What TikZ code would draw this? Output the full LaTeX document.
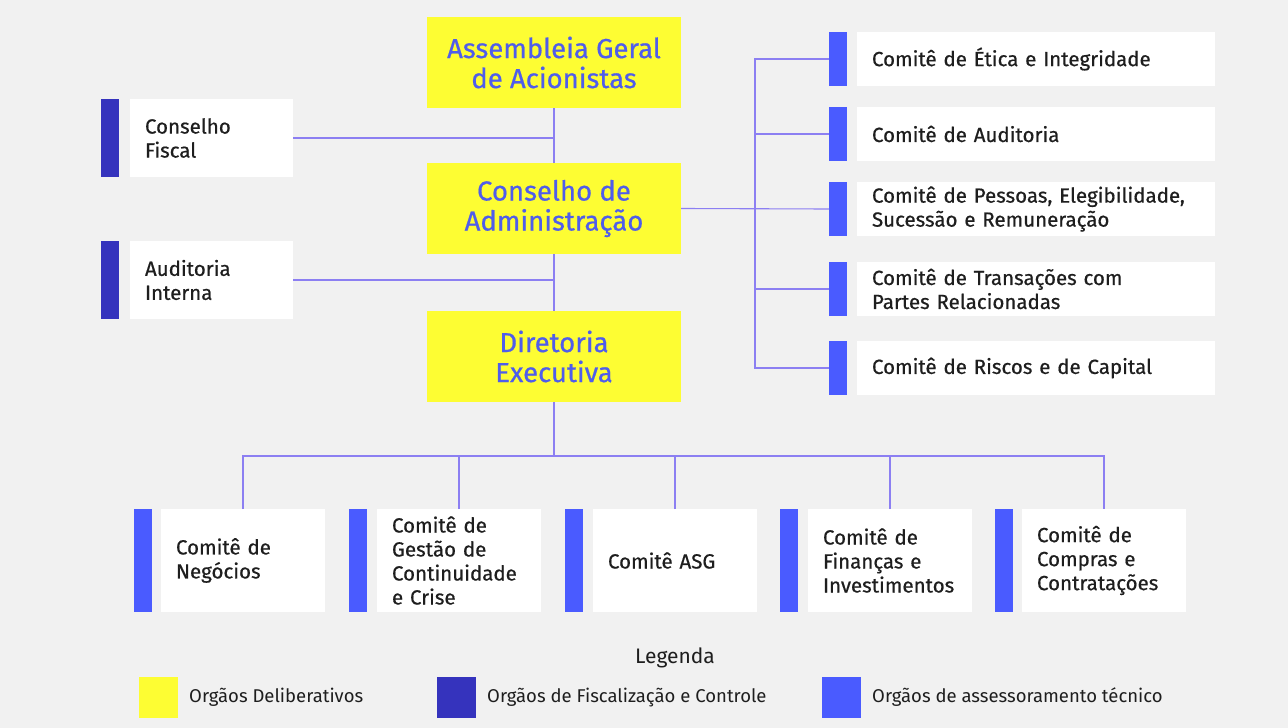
\documentclass[tikz,border=0pt]{standalone}
\usepackage{fontspec}
\setmainfont{Fira Sans}
\newfontfamily\boxfont{Fira Sans}[FakeBold=0.6]
\usetikzlibrary{positioning}

\definecolor{pagegray}{HTML}{F1F1F1}
\definecolor{delibyellow}{HTML}{FDFD33}
\definecolor{titleblue}{HTML}{4F5DEB}
\definecolor{fiscblue}{HTML}{3533BD}
\definecolor{assessblue}{HTML}{4A5BFF}
\definecolor{linkpurple}{HTML}{8C7FF2}
\definecolor{inkgray}{HTML}{1E1E1E}

\begin{document}
\begin{tikzpicture}[x=1pt, y=-1pt,
    delibnode/.style={fill=delibyellow, text=titleblue, minimum width=254pt, minimum height=91pt,
        inner sep=0pt, outer sep=0pt, align=center, anchor=north west,
        font=\boxfont\fontsize{27.5}{30}\selectfont},
    whitenode/.style={fill=white, text=inkgray, inner xsep=15pt, inner ysep=0pt, outer sep=0pt,
        align=left, anchor=north west, font=\boxfont\fontsize{20.5}{24}\selectfont},
    sidenode/.style={whitenode, text width=133pt, minimum height=78pt},
    rightnode/.style={whitenode, text width=328pt, minimum height=54pt},
    lownode/.style={whitenode, text width=134pt, minimum height=103pt},
    fiscbar/.style={fill=fiscblue, minimum width=18pt, inner sep=0pt, outer sep=0pt},
    assessbar/.style={fill=assessblue, minimum width=18pt, inner sep=0pt, outer sep=0pt},
    keybox/.style={minimum width=39pt, minimum height=41pt, inner sep=0pt, outer sep=0pt, anchor=north west},
    keytext/.style={font=\fontsize{18.5}{21}\selectfont, text=inkgray, inner sep=0pt},
    link/.style={draw=linkpurple, line width=1.1pt}
    ]
        \fill[pagegray] (0,0) rectangle (1288,728);
        \useasboundingbox (0,0) rectangle (1288,728);

        %Deliberative nodes
        \node[delibnode] (ag) at (427,17)  {Assembleia Geral\\de Acionistas};
        \node[delibnode] (ca) at (427,163) {Conselho de\\Administração};
        \node[delibnode] (de) at (427,311) {Diretoria\\Executiva};

        %Fiscal nodes
        \node[sidenode] (cf) at (130,99)  {Conselho\\Fiscal};
        \node[fiscbar, minimum height=78pt, left=11pt of cf] (cfbar) {};
        \node[sidenode] (ai) at (130,241) {Auditoria\\Interna};
        \node[fiscbar, minimum height=78pt, left=11pt of ai] (aibar) {};

        %Board committees
        \node[rightnode] (etica) at (857,32)  {Comitê de Ética e Integridade};
        \node[assessbar, minimum height=54pt, left=10pt of etica] (eticabar) {};
        \node[rightnode] (audit) at (857,107) {Comitê de Auditoria};
        \node[assessbar, minimum height=54pt, left=10pt of audit] (auditbar) {};
        \node[rightnode] (pess) at (857,182)  {Comitê de Pessoas, Elegibilidade,\\Sucessão e Remuneração};
        \node[assessbar, minimum height=54pt, left=10pt of pess] (pessbar) {};
        \node[rightnode] (trans) at (857,262) {Comitê de Transações com\\Partes Relacionadas};
        \node[assessbar, minimum height=54pt, left=10pt of trans] (transbar) {};
        \node[rightnode] (risc) at (857,341)  {Comitê de Riscos e de Capital};
        \node[assessbar, minimum height=54pt, left=10pt of risc] (riscbar) {};

        %Executive committees
        \node[lownode] (neg) at (161,509)  {Comitê de\\Negócios};
        \node[assessbar, minimum height=103pt, left=9pt of neg] (negbar) {};
        \node[lownode] (gest) at (377,509) {Comitê de\\Gestão de\\Continuidade\\e Crise};
        \node[assessbar, minimum height=103pt, left=10pt of gest] (gestbar) {};
        \node[lownode] (asg) at (593,509)  {Comitê ASG};
        \node[assessbar, minimum height=103pt, left=10pt of asg] (asgbar) {};
        \node[lownode] (fin) at (808,509)  {Comitê de\\Finanças e\\Investimentos};
        \node[assessbar, minimum height=103pt, left=10pt of fin] (finbar) {};
        \node[lownode] (comp) at (1022,509) {Comitê de\\Compras e\\Contratações};
        \node[assessbar, minimum height=103pt, left=9pt of comp] (compbar) {};

        %Helper points
        \coordinate (trunk) at (755,209);
        \coordinate (bus)   at (554,456);

        %Lines
        \draw[link] (ag.south) -- (ca.north);
        \draw[link] (ca.south) -- (de.north);
        \draw[link] (cf.east) -- (cf.east -| ag.south);
        \draw[link] (ai.east) -- (ai.east -| ca.south);
        \draw[link] (ca.east) -- (pessbar.west);
        \draw[link] (eticabar.west) -- (eticabar.west -| trunk) -- (riscbar.west -| trunk) -- (riscbar.west);
        \draw[link] (auditbar.west -| trunk) -- (auditbar.west);
        \draw[link] (transbar.west -| trunk) -- (transbar.west);
        \draw[link] (de.south) -- (de.south |- bus);
        \draw[link] (neg.north) |- (bus) -| (comp.north);
        \draw[link] (gest.north) -- (gest.north |- bus);
        \draw[link] (asg.north) -- (asg.north |- bus);
        \draw[link] (fin.north) -- (fin.north |- bus);

        %Legend
        \node[font=\fontsize{21}{24}\selectfont, text=inkgray] (leg) at (675,658) {Legenda};
        \node[keybox, fill=delibyellow] (kdelib) at (139,677) {};
        \node[keytext, right=11pt of kdelib] (tdelib) {Orgãos Deliberativos};
        \node[keybox, fill=fiscblue] (kfisc) at (437,677) {};
        \node[keytext, right=11pt of kfisc] (tfisc) {Orgãos de Fiscalização e Controle};
        \node[keybox, fill=assessblue] (kassess) at (822,677) {};
        \node[keytext, right=11pt of kassess] (tassess) {Orgãos de assessoramento técnico};
    \end{tikzpicture}
\end{document}
